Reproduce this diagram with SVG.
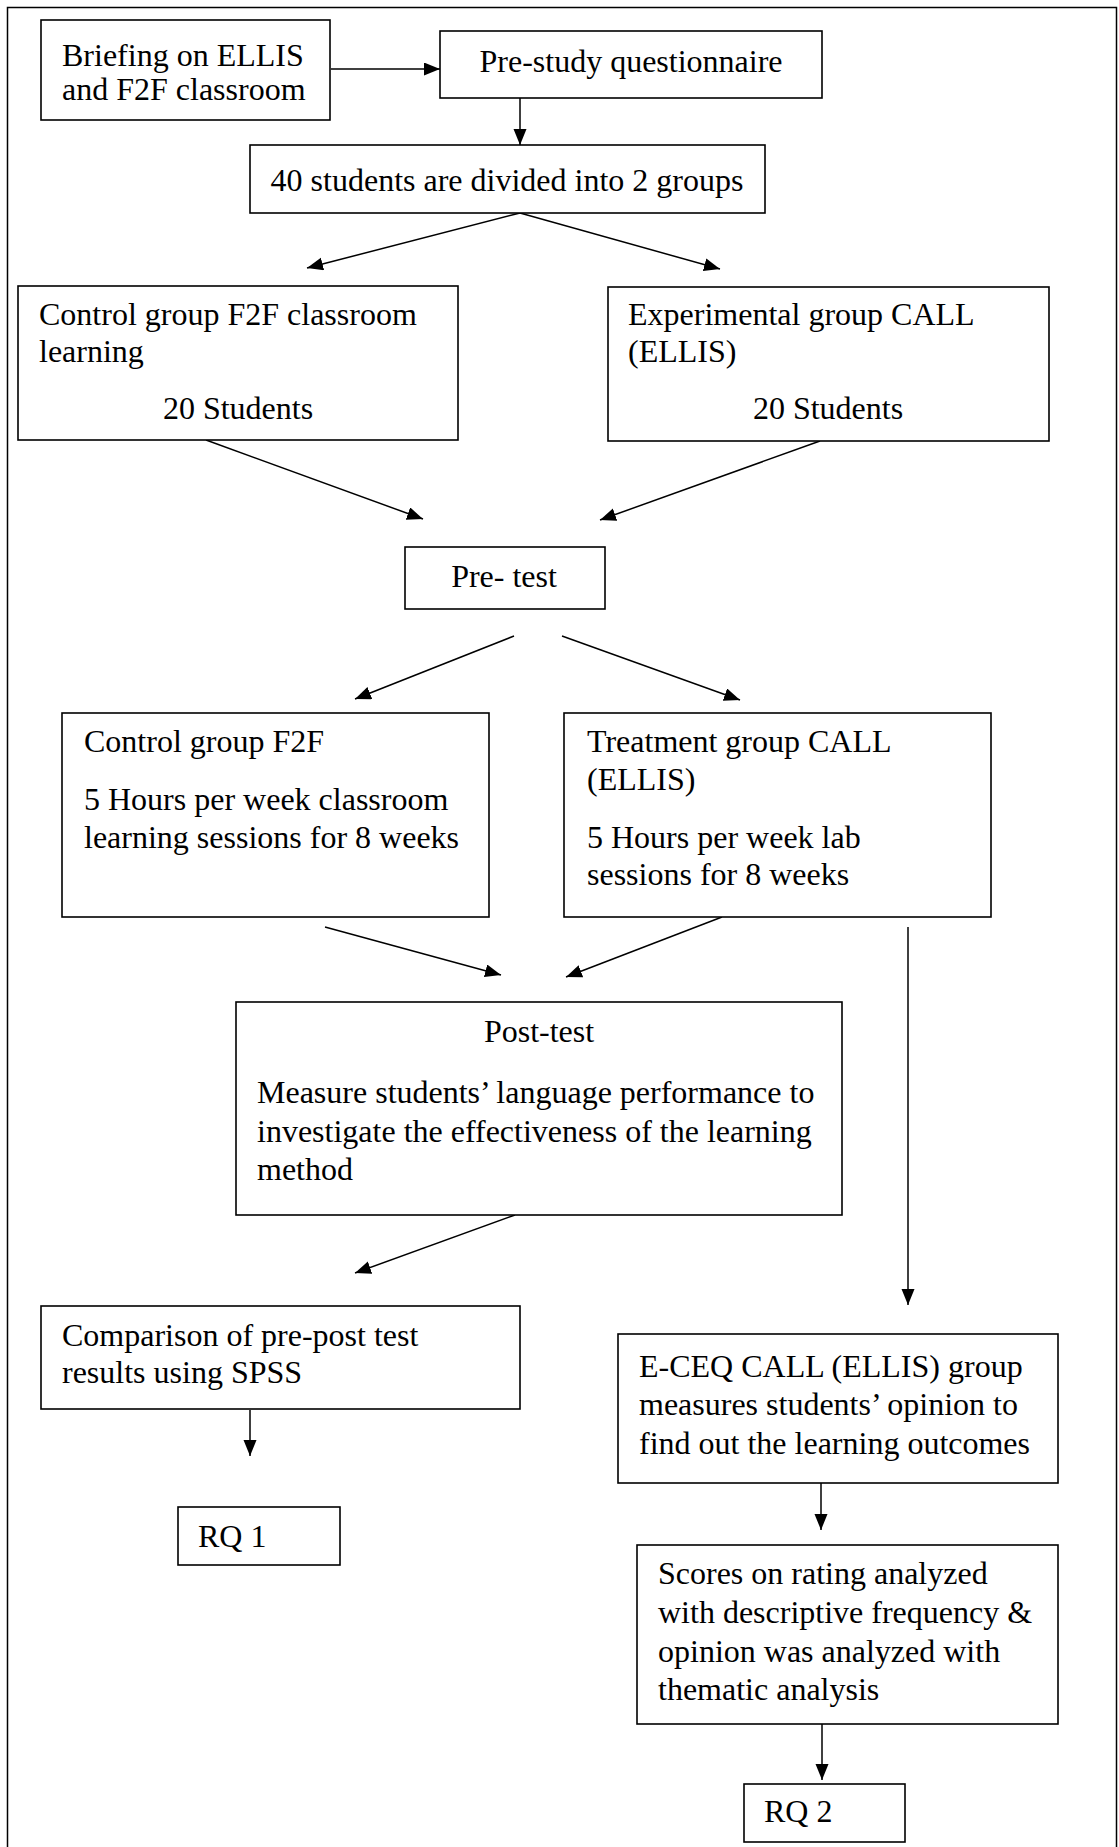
<svg xmlns="http://www.w3.org/2000/svg" width="1119" height="1847" viewBox="0 0 1119 1847">
<defs>
<marker id="ah" markerUnits="userSpaceOnUse" markerWidth="17" markerHeight="14" refX="16" refY="6.5" orient="auto">
<path d="M0,0 L16,6.5 L0,13 z" fill="#000"/>
</marker>
<style>
.box{fill:#fff;stroke:#000;stroke-width:1.6}
.t{font-family:"Liberation Serif","Times New Roman",serif;font-size:32px;fill:#000}
.c{text-anchor:middle}
.edge{stroke:#000;stroke-width:1.5;fill:none;marker-end:url(#ah)}
</style>
</defs>
<rect x="0" y="0" width="1119" height="1847" fill="#fff"/>
<rect x="7.5" y="7.5" width="1109" height="1860" fill="none" stroke="#000" stroke-width="1.5"/>

<g id="connectors">
<line class="edge" x1="331" y1="69" x2="440" y2="69"/>
<line class="edge" x1="520" y1="98" x2="520" y2="145"/>
<line class="edge" x1="520" y1="213" x2="307" y2="268"/>
<line class="edge" x1="520" y1="213" x2="720" y2="269"/>
<line class="edge" x1="206" y1="440" x2="423" y2="519"/>
<line class="edge" x1="820" y1="441" x2="600" y2="520"/>
<line class="edge" x1="514" y1="636" x2="355" y2="699"/>
<line class="edge" x1="562" y1="636" x2="740" y2="700"/>
<line class="edge" x1="325" y1="927" x2="501" y2="975"/>
<line class="edge" x1="722" y1="917" x2="566" y2="977"/>
<line class="edge" x1="908" y1="927" x2="908" y2="1305"/>
<line class="edge" x1="515" y1="1215" x2="355" y2="1273"/>
<line class="edge" x1="250" y1="1410" x2="250" y2="1456"/>
<line class="edge" x1="821" y1="1483" x2="821" y2="1530"/>
<line class="edge" x1="822" y1="1724" x2="822" y2="1780"/>
</g>

<g id="n-briefing">
<rect class="box" x="41" y="20" width="289" height="100"/>
<text class="t" x="62" y="66">Briefing on ELLIS</text>
<text class="t" x="62" y="100">and F2F classroom</text>
</g>

<g id="n-prestudy">
<rect class="box" x="440" y="31" width="382" height="67"/>
<text class="t c" x="631" y="72">Pre-study questionnaire</text>
</g>

<g id="n-divide">
<rect class="box" x="250" y="145" width="515" height="68"/>
<text class="t c" x="507" y="191">40 students are divided into 2 groups</text>
</g>

<g id="n-control1">
<rect class="box" x="18" y="286" width="440" height="154"/>
<text class="t" x="39" y="325">Control group F2F classroom</text>
<text class="t" x="39" y="362">learning</text>
<text class="t c" x="238" y="419">20 Students</text>
</g>

<g id="n-exp">
<rect class="box" x="608" y="287" width="441" height="154"/>
<text class="t" x="628" y="325">Experimental group CALL</text>
<text class="t" x="628" y="362">(ELLIS)</text>
<text class="t c" x="828" y="419">20 Students</text>
</g>

<g id="n-pretest">
<rect class="box" x="405" y="547" width="200" height="62"/>
<text class="t c" x="504" y="587">Pre- test</text>
</g>

<g id="n-control2">
<rect class="box" x="62" y="713" width="427" height="204"/>
<text class="t" x="84" y="752">Control group F2F</text>
<text class="t" x="84" y="810">5 Hours per week classroom</text>
<text class="t" x="84" y="848">learning sessions for 8 weeks</text>
</g>

<g id="n-treatment">
<rect class="box" x="564" y="713" width="427" height="204"/>
<text class="t" x="587" y="752">Treatment group CALL</text>
<text class="t" x="587" y="790">(ELLIS)</text>
<text class="t" x="587" y="848">5 Hours per week lab</text>
<text class="t" x="587" y="885">sessions for 8 weeks</text>
</g>

<g id="n-posttest">
<rect class="box" x="236" y="1002" width="606" height="213"/>
<text class="t c" x="539" y="1042">Post-test</text>
<text class="t" x="257" y="1103">Measure students’ language performance to</text>
<text class="t" x="257" y="1142">investigate the effectiveness of the learning</text>
<text class="t" x="257" y="1180">method</text>
</g>

<g id="n-comparison">
<rect class="box" x="41" y="1306" width="479" height="103"/>
<text class="t" x="62" y="1346">Comparison of pre-post test</text>
<text class="t" x="62" y="1383">results using SPSS</text>
</g>

<g id="n-rq1">
<rect class="box" x="178" y="1507" width="162" height="58"/>
<text class="t" x="198" y="1547">RQ 1</text>
</g>

<g id="n-eceq">
<rect class="box" x="618" y="1334" width="440" height="149"/>
<text class="t" x="639" y="1377">E-CEQ CALL (ELLIS) group</text>
<text class="t" x="639" y="1415">measures students’ opinion to</text>
<text class="t" x="639" y="1454">find out the learning outcomes</text>
</g>

<g id="n-scores">
<rect class="box" x="637" y="1545" width="421" height="179"/>
<text class="t" x="658" y="1584">Scores on rating analyzed</text>
<text class="t" x="658" y="1623">with descriptive frequency &amp;</text>
<text class="t" x="658" y="1662">opinion was analyzed with</text>
<text class="t" x="658" y="1700">thematic analysis</text>
</g>

<g id="n-rq2">
<rect class="box" x="744" y="1784" width="161" height="58"/>
<text class="t" x="764" y="1822">RQ 2</text>
</g>
</svg>
